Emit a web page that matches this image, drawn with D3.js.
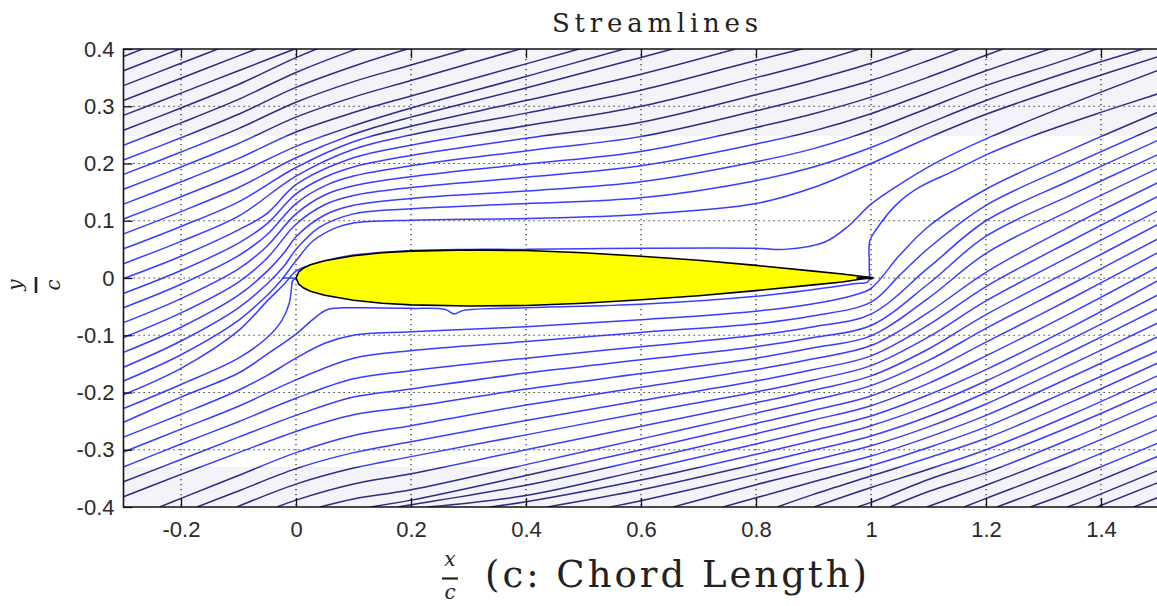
<!DOCTYPE html>
<html>
<head>
<meta charset="utf-8">
<script src="https://cdn.jsdelivr.net/npm/d3@7"></script>
<style>
  body { margin: 0; background: #fff; }
  svg { display: block; }
</style>
</head>
<body>
<svg id="chart"></svg>
<script>
// axis ticks
const xTicks = [-0.2, 0, 0.2, 0.4, 0.6, 0.8, 1, 1.2, 1.4];
const yTicks = [-0.4, -0.3, -0.2, -0.1, 0, 0.1, 0.2, 0.3, 0.4];

// airfoil half thickness
const airfoilX = [0, 0.005, 0.0125, 0.025, 0.05, 0.1, 0.15, 0.2, 0.3, 0.4, 0.5, 0.6, 0.7, 0.8, 0.9, 0.95, 1.0];
const airfoilT = [0, 0.011, 0.017, 0.023, 0.030, 0.039, 0.044, 0.047, 0.049, 0.048, 0.044, 0.038, 0.031, 0.022, 0.012, 0.007, 0.001];

// streamlines passing above the airfoil (from left edge)
const upperLines = [
  [[-.3,.387],[-.2,.426]],
  [[-.3,.362],[-.2,.401],[-.1,.440]],
  [[-.3,.336],[-.2,.375],[-.1,.414]],
  [[-.3,.310],[-.2,.349],[-.1,.388],[0,.427]],
  [[-.3,.284],[-.2,.323],[-.1,.362],[0,.401],[.1,.44]],
  [[-.3,.258],[-.2,.297],[-.1,.338],[0,.385],[.1,.425]],
  [[-.3,.232],[-.2,.271],[-.1,.312],[0,.359],[.1,.398],[.2,.432]],
  [[-.3,.206],[-.2,.245],[-.1,.286],[0,.333],[.1,.370],[.2,.402],[.4,.46]],
  [[-.3,.181],[-.2,.220],[-.1,.261],[0,.307],[.1,.343],[.2,.372],[.4,.43]],
  [[-.3,.155],[-.2,.194],[-.1,.235],[0,.281],[.1,.316],[.2,.345],[.4,.403],[.6,.46]],
  [[-.3,.129],[-.2,.168],[-.1,.209],[0,.255],[.1,.289],[.2,.318],[.4,.374],[.6,.43]],
  [[-.3,.103],[-.2,.142],[-.1,.183],[0,.230],[.1,.266],[.2,.297],[.4,.352],[.6,.408],[.8,.46]],
  [[-.3,.077],[-.2,.116],[-.1,.158],[0,.210],[.1,.251],[.2,.281],[.4,.332],[.6,.385],[.8,.44]],
  [[-.3,.051],[-.2,.090],[-.1,.133],[0,.193],[.1,.238],[.2,.265],[.4,.310],[.6,.356],[.8,.410]],
  [[-.3,.025],[-.2,.064],[-.1,.108],[0,.178],[.1,.225],[.2,.250],[.4,.288],[.6,.328],[.8,.380],[.9,.405]],
  [[-.3,-.001],[-.2,.038],[-.1,.084],[-.05,.113],[0,.163],[.1,.210],[.2,.232],[.4,.266],[.6,.300],[.8,.350],[.9,.376],[1,.406]],
  [[-.3,-.027],[-.2,.013],[-.1,.061],[-.05,.095],[0,.147],[.05,.176],[.1,.194],[.2,.214],[.4,.244],[.6,.272],[.8,.320],[.9,.346],[1,.375],[1.1,.41]],
  [[-.3,-.052],[-.2,-.011],[-.1,.039],[-.05,.076],[0,.130],[.05,.161],[.1,.178],[.2,.196],[.4,.222],[.6,.247],[.8,.292],[.9,.317],[1,.345],[1.1,.380],[1.2,.418]],
  [[-.3,-.078],[-.2,-.036],[-.1,.016],[-.05,.056],[0,.112],[.05,.145],[.1,.161],[.2,.177],[.4,.199],[.6,.221],[.8,.263],[.9,.287],[1,.316],[1.1,.351],[1.2,.389],[1.35,.445]],
  [[-.3,-.104],[-.2,-.061],[-.1,-.007],[-.05,.035],[0,.094],[.05,.128],[.1,.144],[.2,.158],[.4,.176],[.6,.196],[.8,.234],[.9,.257],[1,.287],[1.1,.324],[1.2,.362],[1.35,.413]],
  [[-.3,-.130],[-.2,-.086],[-.1,-.030],[-.05,.012],[-.02,.045],[0,.072],[.05,.110],[.1,.127],[.2,.139],[.4,.152],[.6,.168],[.8,.203],[.9,.226],[1,.258],[1.1,.297],[1.2,.336],[1.35,.385],[1.5,.44]],
  [[-.3,-.156],[-.2,-.110],[-.1,-.052],[-.05,-.010],[-.02,.022],[0,.050],[.04,.088],[.1,.112],[.2,.121],[.4,.130],[.6,.140],[.8,.170],[.9,.194],[1,.228],[1.1,.270],[1.2,.310],[1.35,.362],[1.5,.408]],
  [[-.3,-.180],[-.2,-.134],[-.1,-.074],[-.05,-.030],[-.025,-.003],[0,.030],[.03,.065],[.07,.088],[.1,.096],[.2,.101],[.4,.104],[.6,.111],[.8,.130],[.9,.158],[1,.200],[1.1,.245],[1.2,.286],[1.35,.338],[1.5,.387]],
  [[-.3,-.204],[-.2,-.158],[-.1,-.092],[-.05,-.040],[-.02,-.01],[0,.012],[.03,.024],[.1,.040],[.2,.048],[.3,.050],[.4,.050],[.5,.051],[.6,.052],[.8,.052],[.85,.050],[.92,.063],[.96,.090],[1,.129],[1.06,.170],[1.12,.205],[1.2,.243],[1.35,.305],[1.5,.363]]
];

// dividing streamline running into the leading edge
const stagnationLine = [[-.3,-.228],[-.2,-.186],[-.1,-.140],[-.05,-.104],[-.025,-.075],[-.012,-.045],[-.008,-.02],[-.006,-.005],[0,0]];
const leadingHook = [[-.023,0],[-.004,0]];

// streamlines passing below the airfoil (from left edge); first one hugs the surface and leaves the trailing edge
const lowerLines = [
  [[-.3,-.252],[-.2,-.208],[-.1,-.166],[-.05,-.133],[0,-.098],[.03,-.072],[.055,-.055],[.1,-.052],[.2,-.053],[.26,-.055],[.275,-.063],[.29,-.057],[.4,-.052],[.6,-.046],[.8,-.032],[.9,-.020],[.97,-.010],[.995,-.006],[.997,.02],[.998,.065],[1.01,.086],[1.045,.129],[1.085,.159],[1.144,.187],[1.202,.216],[1.289,.251],[1.405,.291],[1.5,.322]],
  [[-.3,-.278],[-.2,-.238],[-.1,-.196],[-.05,-.170],[0,-.140],[.05,-.114],[.1,-.100],[.2,-.094],[.4,-.085],[.6,-.073],[.8,-.058],[.9,-.045],[.97,-.030],[1,-.018],[1.05,.040],[1.1,.090],[1.2,.155],[1.35,.225],[1.5,.290]],
  [[-.3,-.304],[-.2,-.264],[-.1,-.224],[0,-.178],[.1,-.140],[.2,-.127],[.4,-.111],[.6,-.095],[.8,-.080],[.9,-.066],[1,-.042],[1.05,.005],[1.1,.052],[1.2,.127],[1.35,.198],[1.5,.265]],
  [[-.3,-.330],[-.2,-.290],[-.1,-.251],[0,-.210],[.1,-.176],[.2,-.162],[.4,-.140],[.6,-.120],[.8,-.100],[.9,-.085],[1,-.063],[1.1,.018],[1.2,.100],[1.35,.172],[1.5,.241]],
  [[-.3,-.356],[-.2,-.317],[-.1,-.278],[0,-.240],[.1,-.208],[.2,-.194],[.4,-.166],[.6,-.143],[.8,-.120],[.9,-.104],[1,-.083],[1.1,-.010],[1.2,.073],[1.35,.146],[1.5,.216]],
  [[-.3,-.382],[-.2,-.343],[-.1,-.305],[0,-.268],[.1,-.239],[.2,-.225],[.4,-.194],[.6,-.167],[.8,-.140],[.9,-.122],[1,-.101],[1.1,-.035],[1.2,.043],[1.35,.120],[1.5,.192]]
];

// streamlines entering through the bottom edge
const bottomLines = [
  [[-.237,-.4],[-.2,-.385],[-.1,-.345],[0,-.305],[.1,-.275],[.2,-.258],[.4,-.222],[.6,-.191],[.8,-.160],[.9,-.141],[1,-.118],[1.1,-.060],[1.2,.010],[1.35,.092],[1.5,.167]],
  [[-.172,-.4],[-.1,-.372],[0,-.333],[.1,-.305],[.2,-.286],[.4,-.249],[.6,-.214],[.8,-.180],[.9,-.160],[1,-.136],[1.1,-.082],[1.2,-.015],[1.35,.066],[1.5,.143]],
  [[-.103,-.4],[0,-.36],[.1,-.332],[.2,-.312],[.4,-.274],[.6,-.236],[.8,-.199],[.9,-.178],[1,-.153],[1.1,-.103],[1.2,-.040],[1.35,.040],[1.5,.118]],
  [[-.033,-.4],[0,-.388],[.1,-.36],[.2,-.342],[.4,-.300],[.6,-.259],[.8,-.218],[.9,-.196],[1,-.171],[1.1,-.124],[1.2,-.064],[1.35,.015],[1.5,.094]],
  [[.042,-.4],[.1,-.386],[.2,-.370],[.4,-.326],[.6,-.281],[.8,-.236],[.9,-.213],[1,-.188],[1.1,-.144],[1.2,-.088],[1.35,-.010],[1.5,.069]],
  [[.129,-.4],[.2,-.388],[.4,-.345],[.6,-.300],[.8,-.254],[.9,-.231],[1,-.206],[1.1,-.164],[1.2,-.112],[1.35,-.035],[1.5,.045]],
  [[.177,-.4],[.2,-.396],[.4,-.362],[.6,-.318],[.8,-.272],[.9,-.248],[1,-.223],[1.1,-.184],[1.2,-.136],[1.35,-.060],[1.5,.020]],
  [[.228,-.4],[.4,-.380],[.6,-.336],[.8,-.290],[.9,-.266],[1,-.241],[1.1,-.204],[1.2,-.160],[1.35,-.085],[1.5,-.004]],
  [[.337,-.4],[.4,-.391],[.6,-.353],[.8,-.308],[.9,-.284],[1,-.258],[1.1,-.223],[1.2,-.180],[1.35,-.106],[1.5,-.029]],
  [[.437,-.4],[.6,-.370],[.8,-.325],[.9,-.301],[1,-.276],[1.1,-.242],[1.2,-.200],[1.35,-.128],[1.5,-.053]],
  [[.546,-.4],[.6,-.389],[.8,-.343],[.9,-.318],[1,-.293],[1.1,-.260],[1.2,-.220],[1.35,-.150],[1.5,-.078]],
  [[.656,-.4],[.8,-.361],[.9,-.336],[1,-.311],[1.1,-.278],[1.2,-.240],[1.35,-.172],[1.5,-.102]],
  [[.743,-.4],[.8,-.384],[.9,-.356],[1,-.328],[1.1,-.296],[1.2,-.260],[1.35,-.194],[1.5,-.127]],
  [[.837,-.4],[.9,-.378],[1,-.346],[1.1,-.314],[1.2,-.280],[1.35,-.216],[1.5,-.148]],
  [[.901,-.4],[1,-.366],[1.1,-.334],[1.2,-.300],[1.35,-.238],[1.5,-.170]],
  [[.976,-.4],[1,-.392],[1.1,-.352],[1.2,-.318],[1.35,-.258],[1.5,-.192]],
  [[1.033,-.4],[1.1,-.373],[1.2,-.340],[1.35,-.280],[1.5,-.215]],
  [[1.097,-.4],[1.2,-.362],[1.35,-.303],[1.5,-.239]],
  [[1.162,-.4],[1.2,-.385],[1.35,-.327],[1.5,-.264]],
  [[1.219,-.4],[1.35,-.350],[1.5,-.288]],
  [[1.277,-.4],[1.35,-.373],[1.5,-.311]],
  [[1.341,-.4],[1.35,-.397],[1.5,-.336]],
  [[1.393,-.4],[1.5,-.357]],
  [[1.457,-.4],[1.5,-.383]]
];

const W = 1157, H = 606;
const svg = d3.select("#chart").attr("width", W).attr("height", H);

const x = d3.scaleLinear([-0.3, 1.5], [123.5, 1158.5]);
const y = d3.scaleLinear([-0.4, 0.4], [507, 49]);

const defs = svg.append("defs");
function clipRect(id, y0, y1) {
  defs.append("clipPath").attr("id", id).append("rect")
    .attr("x", x(-0.3)).attr("width", x(1.5) - x(-0.3))
    .attr("y", y(y1)).attr("height", y(y0) - y(y1));
}
clipRect("midBand", -0.33, 0.248);
clipRect("topBand", 0.248, 0.4);
clipRect("botBand", -0.4, -0.33);

// faint tinted background in top and bottom bands (as in the source image)
svg.append("g").selectAll("rect")
  .data([[0.248, 0.4], [-0.4, -0.33]])
  .join("rect")
  .attr("x", x(-0.3)).attr("width", x(1.5) - x(-0.3))
  .attr("y", d => y(d[1])).attr("height", d => y(d[0]) - y(d[1]))
  .attr("fill", "#f3f3f9");

// dotted grid
const grid = svg.append("g").attr("stroke", "#111").attr("stroke-width", 1.1)
  .attr("stroke-dasharray", "1.2,3.8");
grid.selectAll(".gx").data(xTicks).join("line")
  .attr("x1", d => x(d)).attr("x2", d => x(d)).attr("y1", y(0.4)).attr("y2", y(-0.4));
grid.selectAll(".gy").data(yTicks.slice(1, -1)).join("line")
  .attr("x1", x(-0.3)).attr("x2", x(1.5)).attr("y1", d => y(d)).attr("y2", d => y(d));

const allLines = [...upperLines, stagnationLine, leadingHook, ...lowerLines, ...bottomLines];
const line = d3.line().x(d => x(d[0])).y(d => y(d[1])).curve(d3.curveCatmullRom.alpha(0.5));

function drawLines(clip, color) {
  svg.append("g").attr("clip-path", `url(#${clip})`)
    .selectAll("path").data(allLines).join("path")
    .attr("d", line).attr("fill", "none")
    .attr("stroke", color).attr("stroke-width", 1.5);
}
drawLines("midBand", "#3a3cff");
drawLines("topBand", "#2c2c82");
drawLines("botBand", "#2c2c82");

// airfoil
const upper = airfoilX.map((d, i) => [d, airfoilT[i]]);
const lower = airfoilX.map((d, i) => [d, -airfoilT[i]]).reverse();
const foil = d3.line().x(d => x(d[0])).y(d => y(d[1])).curve(d3.curveLinear);
svg.append("path")
  .attr("d", foil([...upper, ...lower.slice(1)]) + "Z")
  .attr("fill", "#ffff00").attr("stroke", "#000").attr("stroke-width", 1.6)
  .attr("stroke-linejoin", "round");
svg.append("line")
  .attr("x1", x(0.975)).attr("x2", x(1.004)).attr("y1", y(0)).attr("y2", y(0))
  .attr("stroke", "#000").attr("stroke-width", 2.5);

// axes (inward ticks, plain hyphen minus as in the source)
const fontTick = "'Liberation Sans', Arial, sans-serif";
const fmt = d => String(d);
const gxAxis = svg.append("g").attr("transform", `translate(0,${y(-0.4)})`)
  .call(d3.axisBottom(x).tickValues(xTicks).tickSizeInner(-9).tickSizeOuter(0).tickPadding(14).tickFormat(fmt));
const gyAxis = svg.append("g").attr("transform", `translate(${x(-0.3)},0)`)
  .call(d3.axisLeft(y).tickValues(yTicks).tickSizeInner(-9).tickSizeOuter(0).tickPadding(9).tickFormat(fmt));
const gtAxis = svg.append("g").attr("transform", `translate(0,${y(0.4)})`)
  .call(d3.axisTop(x).tickValues(xTicks).tickSizeInner(-9).tickSizeOuter(0).tickFormat(""));
[gxAxis, gyAxis, gtAxis].forEach(g => {
  g.select(".domain").remove();
  g.selectAll(".tick line").attr("stroke", "#111").attr("stroke-width", 1.3);
  g.selectAll("text").attr("font-family", fontTick).attr("font-size", 22).attr("fill", "#2a2a2a");
});

// frame
svg.append("path")
  .attr("d", `M${x(1.5)},${y(0.4)}H${x(-0.3)}V${y(-0.4)}H${x(1.5)}`)
  .attr("fill", "none").attr("stroke", "#111").attr("stroke-width", 1.6);

// title
svg.append("text").attr("x", 655).attr("y", 32).attr("text-anchor", "middle")
  .attr("font-family", "'DejaVu Serif', serif").attr("font-size", 26)
  .attr("textLength", 206).attr("lengthAdjust", "spacing")
  .attr("fill", "#222").text("Streamlines");

// x label: x/c (c: Chord Length)
const serif = "'DejaVu Serif', 'Liberation Serif', serif";
const xl = svg.append("g").attr("fill", "#222");
xl.append("text").attr("x", 450).attr("y", 566).attr("text-anchor", "middle")
  .attr("font-family", serif).attr("font-style", "italic").attr("font-size", 20).text("x");
xl.append("line").attr("x1", 442).attr("x2", 458).attr("y1", 578.5).attr("y2", 578.5)
  .attr("stroke", "#222").attr("stroke-width", 2.2);
xl.append("text").attr("x", 450).attr("y", 599).attr("text-anchor", "middle")
  .attr("font-family", serif).attr("font-style", "italic").attr("font-size", 20).text("c");
xl.append("text").attr("x", 485).attr("y", 587)
  .attr("font-family", serif).attr("font-size", 37)
  .attr("textLength", 382).attr("lengthAdjust", "spacing").text("(c: Chord Length)");

// y label: y/c (rotated)
const yl = svg.append("g").attr("transform", "translate(36,285) rotate(-90)").attr("fill", "#222");
yl.append("text").attr("x", 0).attr("y", -14).attr("text-anchor", "middle")
  .attr("font-family", serif).attr("font-style", "italic").attr("font-size", 20).text("y");
yl.append("line").attr("x1", -8).attr("x2", 8).attr("y1", 0).attr("y2", 0)
  .attr("stroke", "#222").attr("stroke-width", 2.6);
yl.append("text").attr("x", 0).attr("y", 24).attr("text-anchor", "middle")
  .attr("font-family", serif).attr("font-style", "italic").attr("font-size", 20).text("c");
</script>
</body>
</html>
